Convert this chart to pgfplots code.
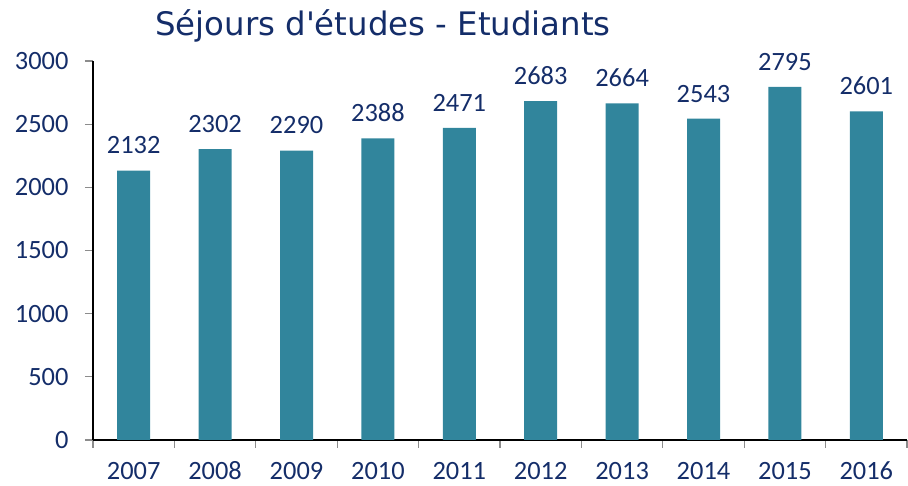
\documentclass[border=0pt]{standalone}
\usepackage{pgfplots}
\pgfplotsset{compat=1.18}
\usepackage{fontspec}
\setmainfont{Carlito}
\newfontfamily\titlefont{DejaVu Sans}
\definecolor{navy}{RGB}{20,45,105}
\definecolor{barcol}{HTML}{31859C}
\definecolor{tickgray}{RGB}{140,140,140}
\begin{document}
\begin{tikzpicture}[x=1bp,y=1bp]
\begin{axis}[
  at={(0,0)}, anchor=south west,
  scale only axis,
  width=814bp, height=379bp,
  xmin=-0.5, xmax=9.5,
  ymin=0, ymax=3000,
  axis x line*=bottom,
  axis y line*=left,
  axis line style={black, line width=1.2bp, -},
  xtick={-0.5,0.5,...,9.5},
  x tick label as interval,
  xticklabels={2007,2008,2009,2010,2011,2012,2013,2014,2015,2016},
  ytick={0,500,...,3000},
  tick align=outside,
  major tick length=8bp,
  every tick/.style={tickgray, line width=1.2bp},
  tick label style={font=\fontsize{26.5}{30}\selectfont, text=navy, text height=17bp, text depth=0bp},
  /pgf/number format/assume math mode=true,
  /pgf/number format/1000 sep={},
  scaled y ticks=false,
  xticklabel style={yshift=-11bp},
  yticklabel style={xshift=-13bp},
  ybar,
  bar width=33bp,
  nodes near coords,
  every node near coord/.append style={font=\fontsize{26.5}{30}\selectfont, text=navy, yshift=13bp},
  clip=false,
]
\addplot[fill=barcol, draw=none] coordinates {
  (0,2132) (1,2302) (2,2290) (3,2388) (4,2471)
  (5,2683) (6,2664) (7,2543) (8,2795) (9,2601)
};
\end{axis}
\node[font=\titlefont\fontsize{32.5}{36}\selectfont, text=navy, anchor=base] at (290,404) {Séjours d'études - Etudiants};
\pgfresetboundingbox
\path (-93,-46) rectangle (815,440);
\end{tikzpicture}
\end{document}
